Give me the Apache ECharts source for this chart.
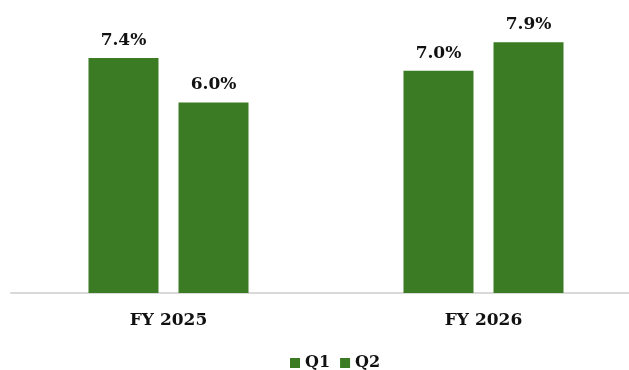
<!DOCTYPE html>
<html>
<head>
<meta charset="utf-8">
<script src="https://cdn.jsdelivr.net/npm/echarts@6/dist/echarts.min.js"></script>
<style>
  html, body { margin: 0; padding: 0; background: #fff; }
  #chart { width: 629px; height: 370px; }
</style>
</head>
<body>
<div id="chart"></div>
<script>
const categories = ['FY 2025', 'FY 2026'];
const q1Values = [7.4, 7.0];
const q2Values = [6.0, 7.9];

const green = '#3a7b23';
const font = 'Georgia, "DejaVu Serif", serif';

const labelStyle = {
    show: true,
    position: 'top',
    distance: 9,
    color: '#111',
    fontFamily: font,
    fontWeight: 'bold',
    fontSize: 17,
    formatter: (p) => p.value.toFixed(1) + '%'
};

const chart = echarts.init(document.getElementById('chart'));

chart.setOption({
    animation: false,
    grid: { left: 11, width: 630, top: 39, bottom: 77, outerBoundsMode: 'none', containLabel: false },
    legend: {
        top: 350,
        left: 285,
        itemWidth: 10,
        itemHeight: 10,
        itemGap: 10,
        icon: 'rect',
        textStyle: { fontFamily: font, fontWeight: 'bold', fontSize: 16, color: '#111' },
        data: ['Q1', 'Q2']
    },
    xAxis: {
        type: 'category',
        data: categories,
        axisLine: { lineStyle: { color: '#d9d9d9', width: 2 } },
        axisTick: { show: false },
        axisLabel: { margin: 19, fontFamily: font, fontWeight: 'bold', fontSize: 17, color: '#111' }
    },
    yAxis: {
        type: 'value',
        min: 0,
        max: 8,
        show: false,
        splitLine: { show: false }
    },
    series: [
        {
            name: 'Q1',
            type: 'bar',
            data: q1Values,
            barWidth: 70,
            barGap: '28.6%',
            itemStyle: { color: green },
            label: labelStyle
        },
        {
            name: 'Q2',
            type: 'bar',
            data: q2Values,
            barWidth: 70,
            itemStyle: { color: green },
            label: labelStyle
        }
    ]
});
</script>
</body>
</html>
